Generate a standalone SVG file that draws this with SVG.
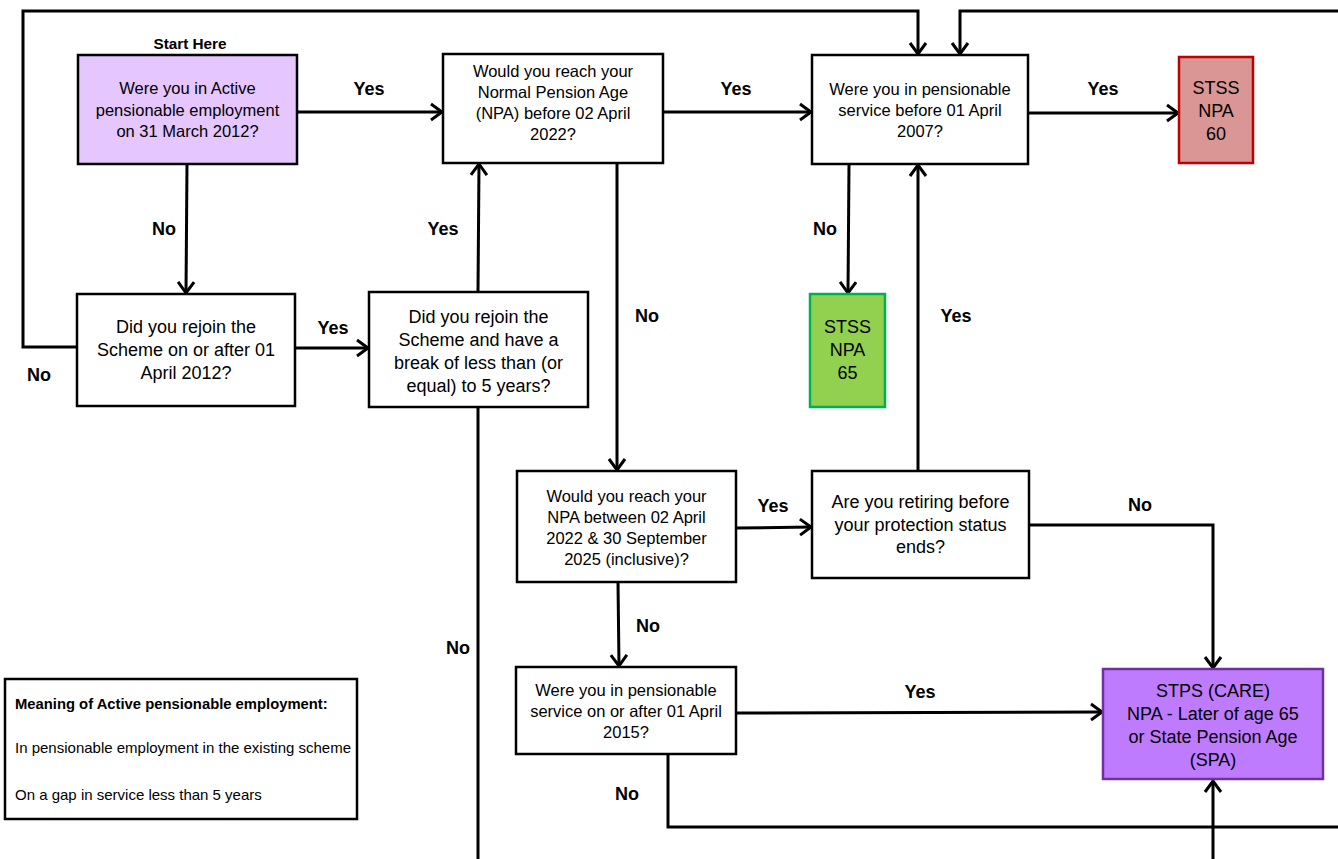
<svg xmlns="http://www.w3.org/2000/svg" width="1338" height="859" viewBox="0 0 1338 859">
<style>
.box{stroke:#000;stroke-width:2.5;fill:#fff}
.t{font-family:"Liberation Sans",Arial,sans-serif;font-size:16.5px;fill:#000;text-anchor:middle}
.tl{font-family:"Liberation Sans",Arial,sans-serif;font-size:18px;fill:#000;text-anchor:middle}
.lbl{font-family:"Liberation Sans",Arial,sans-serif;font-size:18px;font-weight:bold;fill:#000;text-anchor:middle}
.leg{font-family:"Liberation Sans",Arial,sans-serif;font-size:15px;fill:#000}
.c{fill:none;stroke:#000;stroke-width:3;marker-end:url(#ah)}
.cn{fill:none;stroke:#000;stroke-width:3}
</style>
<defs>
<marker id="ah" markerUnits="userSpaceOnUse" viewBox="-2 -2 16 20" markerWidth="16" markerHeight="20" refX="11" refY="8" orient="auto">
<path d="M0,0 L11,8 L0,16" fill="none" stroke="#000" stroke-width="3"/>
</marker>
</defs>
<rect width="1338" height="859" fill="#fff"/>

<g id="connectors">
<polyline class="c" points="297,112 442,112"/>
<polyline class="c" points="663,112 811,112"/>
<polyline class="c" points="1028,113 1178,113"/>
<polyline class="c" points="187,164 186,293"/>
<polyline class="c" points="295,348 368,348"/>
<polyline class="c" points="77,347 23,347 23,11 918,11 918,54"/>
<polyline class="c" points="1338,11 960,11 960,54"/>
<polyline class="c" points="478,292 479,164"/>
<polyline class="cn" points="478,407 478,859"/>
<polyline class="c" points="617,163 617,470"/>
<polyline class="c" points="849,164 848,293"/>
<polyline class="c" points="918,471 918,165"/>
<polyline class="c" points="736,528 811,527"/>
<polyline class="c" points="1029,525 1213,525 1213,668"/>
<polyline class="c" points="618,582 619,666"/>
<polyline class="c" points="736,713 1102,712"/>
<polyline class="cn" points="668,754 668,827 1338,827"/>
<polyline class="c" points="1213,859 1213,781"/>
<text class="lbl" x="369" y="95">Yes</text>
<text class="lbl" x="736" y="95">Yes</text>
<text class="lbl" x="1103" y="95">Yes</text>
<text class="lbl" x="164" y="235">No</text>
<text class="lbl" x="333" y="334">Yes</text>
<text class="lbl" x="39" y="381">No</text>
<text class="lbl" x="443" y="235">Yes</text>
<text class="lbl" x="458" y="654">No</text>
<text class="lbl" x="647" y="322">No</text>
<text class="lbl" x="825" y="235">No</text>
<text class="lbl" x="956" y="322">Yes</text>
<text class="lbl" x="773" y="512">Yes</text>
<text class="lbl" x="1140" y="511">No</text>
<text class="lbl" x="648" y="632">No</text>
<text class="lbl" x="920" y="698">Yes</text>
<text class="lbl" x="627" y="800">No</text>
</g>

<g id="start">
<text class="lbl" x="190" y="49" style="font-size:15.3px">Start Here</text>
<rect x="78" y="55" width="219" height="109" style="stroke:#000;stroke-width:2.5;fill:#E5C6FE"/>
<text class="t" x="187.5" y="94">Were you in Active</text>
<text class="t" x="187.5" y="116">pensionable employment</text>
<text class="t" x="187.5" y="137">on 31 March 2012?</text>
</g>

<g id="npa-before-2022">
<rect class="box" x="443" y="54" width="220" height="109"/>
<text class="t" x="553" y="77">Would you reach your</text>
<text class="t" x="553" y="98">Normal Pension Age</text>
<text class="t" x="553" y="119">(NPA) before 02 April</text>
<text class="t" x="553" y="140">2022?</text>
</g>

<g id="before-2007">
<rect class="box" x="812" y="55" width="216" height="109"/>
<text class="t" x="920" y="95">Were you in pensionable</text>
<text class="t" x="920" y="116">service before 01 April</text>
<text class="t" x="920" y="137">2007?</text>
</g>

<g id="stss60">
<rect x="1179" y="57" width="74" height="106" style="stroke:#C00000;stroke-width:2.5;fill:#D99694"/>
<text class="tl" x="1216" y="94">STSS</text>
<text class="tl" x="1216" y="117">NPA</text>
<text class="tl" x="1216" y="140">60</text>
</g>

<g id="rejoin-2012">
<rect class="box" x="77" y="294" width="218" height="112"/>
<text class="tl" x="186" y="333">Did you rejoin the</text>
<text class="tl" x="186" y="356">Scheme on or after 01</text>
<text class="tl" x="186" y="379">April 2012?</text>
</g>

<g id="rejoin-break">
<rect class="box" x="369" y="292" width="219" height="115"/>
<text class="tl" x="478.5" y="323">Did you rejoin the</text>
<text class="tl" x="478.5" y="346">Scheme and have a</text>
<text class="tl" x="478.5" y="369">break of less than (or</text>
<text class="tl" x="478.5" y="392">equal) to 5 years?</text>
</g>

<g id="stss65">
<rect x="810" y="294" width="75" height="113" style="stroke:#00B050;stroke-width:2.5;fill:#92D050"/>
<text class="tl" x="847.5" y="333">STSS</text>
<text class="tl" x="847.5" y="356">NPA</text>
<text class="tl" x="847.5" y="379">65</text>
</g>

<g id="npa-between">
<rect class="box" x="517" y="471" width="219" height="111"/>
<text class="t" x="626.5" y="502">Would you reach your</text>
<text class="t" x="626.5" y="523">NPA between 02 April</text>
<text class="t" x="626.5" y="544">2022 &amp; 30 September</text>
<text class="t" x="626.5" y="565">2025 (inclusive)?</text>
</g>

<g id="retiring">
<rect class="box" x="812" y="471" width="217" height="107"/>
<text class="tl" x="920.5" y="508">Are you retiring before</text>
<text class="tl" x="920.5" y="531">your protection status</text>
<text class="tl" x="920.5" y="553">ends?</text>
</g>

<g id="after-2015">
<rect class="box" x="516" y="667" width="220" height="87"/>
<text class="t" x="626" y="696">Were you in pensionable</text>
<text class="t" x="626" y="717">service on or after 01 April</text>
<text class="t" x="626" y="738">2015?</text>
</g>

<g id="stps">
<rect x="1103" y="669" width="220" height="110" style="stroke:#7030A0;stroke-width:2.5;fill:#BF7BFE"/>
<text class="tl" x="1213" y="697">STPS (CARE)</text>
<text class="tl" x="1213" y="720">NPA  - Later of age 65</text>
<text class="tl" x="1213" y="743">or State Pension Age</text>
<text class="tl" x="1213" y="766">(SPA)</text>
</g>

<g id="legend">
<rect class="box" x="5" y="679" width="352" height="140"/>
<text class="leg" x="15" y="709" style="font-weight:bold;font-size:14.8px">Meaning of Active pensionable employment:</text>
<text class="leg" x="15" y="753">In pensionable employment in the existing scheme</text>
<text class="leg" x="15" y="800">On a gap in service less than 5 years</text>
</g>
</svg>
